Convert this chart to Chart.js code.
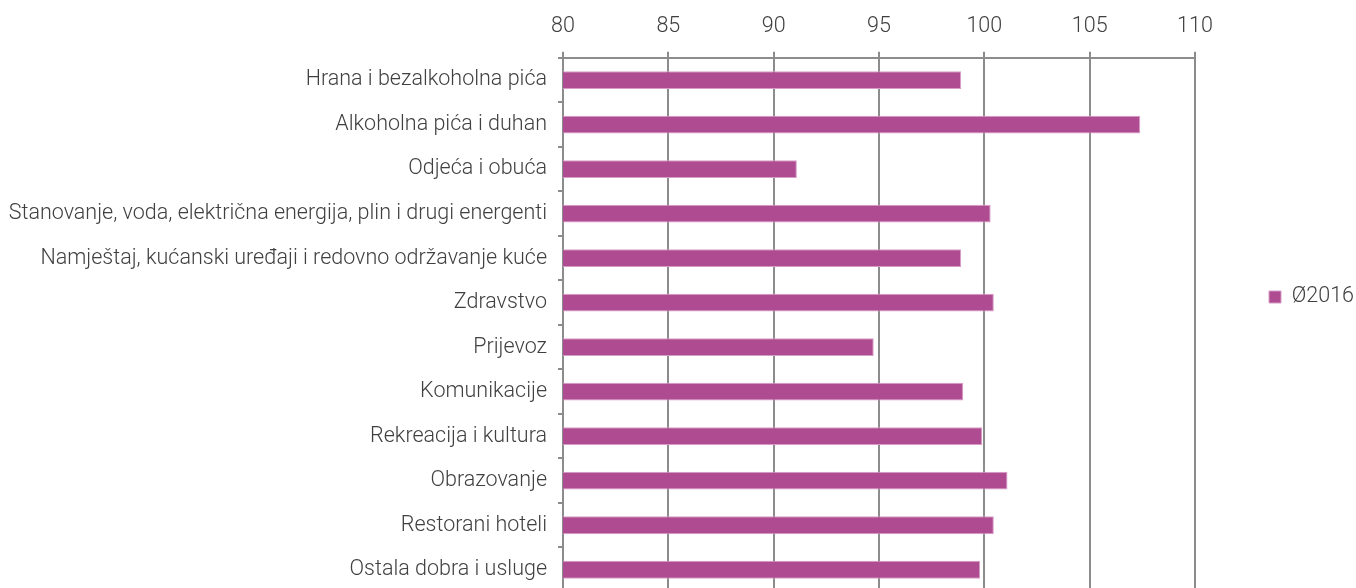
<!DOCTYPE html>
<html>
<head>
<style>
  html, body { margin: 0; padding: 0; background: #fff; overflow: hidden; }
</style>
</head>
<body>
<canvas id="bar-chart" width="1356" height="592"></canvas>
<script src="https://cdn.jsdelivr.net/npm/chart.js@4/dist/chart.umd.min.js"></script>
<script>
var categories = [
  "Hrana i bezalkoholna pića",
  "Alkoholna pića i duhan",
  "Odjeća i obuća",
  "Stanovanje, voda, električna energija, plin i drugi energenti",
  "Namještaj, kućanski uređaji i redovno održavanje kuće",
  "Zdravstvo",
  "Prijevoz",
  "Komunikacije",
  "Rekreacija i kultura",
  "Obrazovanje",
  "Restorani hoteli",
  "Ostala dobra i usluge"
];
var values2016 = [98.9, 107.4, 91.1, 100.3, 98.9, 100.45, 94.75, 99.0, 99.9, 101.1, 100.45, 99.8];
var xTicks = [80, 85, 90, 95, 100, 105, 110];

var textColor = "#404040";
var gridColor = "#8c8c8c";
var barColor = "#ae4b91";

Chart.defaults.font.family = "Roboto";
Chart.defaults.font.weight = 300;
Chart.defaults.font.size = 21.5;
Chart.defaults.color = textColor;

// fixed width for the legend column
var legendWidth = {
  id: "legendWidth",
  afterInit: function (chart) {
    var lg = chart.legend;
    var fit = lg.fit;
    lg.fit = function () {
      fit.call(this);
      this.width = 161;
    };
  }
};

new Chart(document.getElementById("bar-chart"), {
  type: "bar",
  data: {
    labels: categories,
    datasets: [{
      label: "Ø2016",
      data: values2016,
      backgroundColor: barColor,
      borderColor: "#d79cc6",
      borderWidth: 1,
      categoryPercentage: 0.4,
      barPercentage: 1
    }]
  },
  options: {
    indexAxis: "y",
    responsive: false,
    animation: false,
    layout: { padding: { top: 2, left: 8, right: 0, bottom: 0 } },
    plugins: {
      legend: {
        position: "right",
        labels: { boxWidth: 12, boxHeight: 12, padding: 74, color: textColor }
      },
      tooltip: { enabled: false }
    },
    scales: {
      x: {
        position: "top",
        min: 80,
        max: 110,
        afterBuildTicks: function (axis) {
          axis.ticks = xTicks.map(function (v) { return { value: v }; });
        },
        grid: { color: gridColor, lineWidth: 2, tickLength: 6 },
        border: { color: gridColor, width: 2 },
        ticks: { padding: 12, color: textColor }
      },
      y: {
        afterFit: function (scale) {
          scale.width = 555;
          scale.paddingTop = 0;
          scale.paddingBottom = 0;
        },
        grid: { drawOnChartArea: false, color: gridColor, lineWidth: 2, tickLength: 5, offset: true },
        border: { color: gridColor, width: 2 },
        ticks: { padding: 11, color: textColor }
      }
    }
  },
  plugins: [legendWidth]
});
</script>
</body>
</html>
